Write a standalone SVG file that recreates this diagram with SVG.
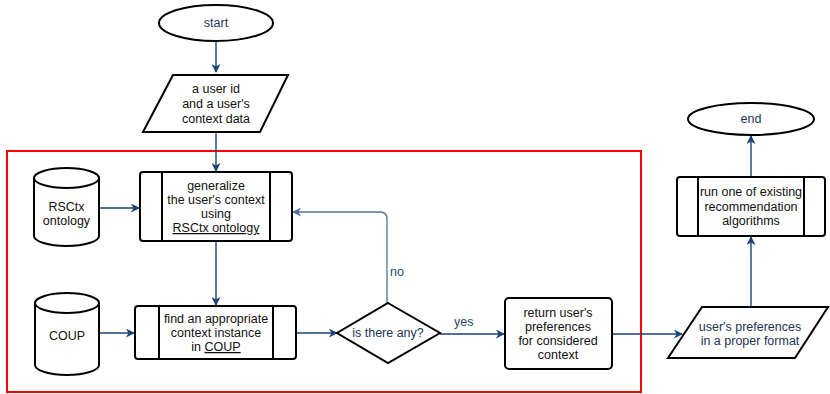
<svg xmlns="http://www.w3.org/2000/svg" width="830" height="394" viewBox="0 0 830 394">
  <style>
    .shape { fill: #ffffff; stroke: #000000; stroke-width: 2; }
    .inner { stroke: #000000; stroke-width: 2; fill: none; }
    text { font-family: "Liberation Sans", Arial, Helvetica, sans-serif; font-size: 12.5px; text-anchor: middle; fill: #111111; }
    .navy { fill: #1b3556; }
    .lbl { fill: #2c4766; text-anchor: start; }
    .edge { fill: none; stroke: #1a4274; stroke-width: 1.4; }
    .edge-soft { fill: none; stroke: #4f7299; stroke-width: 1.3; }
  </style>
  <defs>
    <marker id="arrow" viewBox="0 0 10 10" refX="9" refY="5" markerWidth="9" markerHeight="9" markerUnits="userSpaceOnUse" orient="auto">
      <path d="M0,0 L10,5 L0,10 L3,5 Z" fill="#1a4274"/>
    </marker>
    <marker id="arrow-soft" viewBox="0 0 10 10" refX="9" refY="5" markerWidth="9" markerHeight="9" markerUnits="userSpaceOnUse" orient="auto">
      <path d="M0,0 L10,5 L0,10 L3,5 Z" fill="#4f7299"/>
    </marker>
  </defs>

  <rect x="0" y="0" width="830" height="394" fill="#ffffff"/>

  <!-- processing boundary -->
  <rect id="boundary" x="7" y="151" width="634" height="241" fill="none" stroke="#ff0000" stroke-width="2"/>

  <!-- connectors -->
  <g id="connectors">
    <path class="edge" d="M216,42 L216,72" marker-end="url(#arrow)"/>
    <path class="edge" d="M216,132 L216,171" marker-end="url(#arrow)"/>
    <path class="edge" d="M99,208 L139,208" marker-end="url(#arrow)"/>
    <path class="edge" d="M216,241 L216,305" marker-end="url(#arrow)"/>
    <path class="edge" d="M99,333 L134,333" marker-end="url(#arrow)"/>
    <path class="edge" d="M296,333 L337,333" marker-end="url(#arrow)"/>
    <path class="edge-soft" d="M387,303 L387,219 Q387,212 380,212 L293,212" marker-end="url(#arrow-soft)"/>
    <path class="edge" d="M440,334 L504,334" marker-end="url(#arrow)"/>
    <path class="edge" d="M612,334 L682,334" marker-end="url(#arrow)"/>
    <path class="edge" d="M751,307 L751,237" marker-end="url(#arrow)"/>
    <path class="edge" d="M751,177 L751,136" marker-end="url(#arrow)"/>
    <text class="lbl" x="390" y="276">no</text>
    <text class="lbl" x="454" y="326">yes</text>
  </g>

  <g id="start">
    <ellipse class="shape" cx="216" cy="23" rx="57" ry="18"/>
    <text class="navy" x="216" y="27">start</text>
  </g>

  <g id="input-data">
    <polygon class="shape" points="173,75 288,75 260,132 143,132"/>
    <text x="216" y="93">a user id</text>
    <text x="216" y="108">and a user's</text>
    <text x="216" y="123">context data</text>
  </g>

  <g id="rsctx-ontology">
    <path class="shape" d="M34,178 A32.5,10 0 0 1 99,178 L99,236 A32.5,10 0 0 1 34,236 Z"/>
    <path class="inner" d="M34,178 A32.5,10 0 0 0 99,178"/>
    <text x="66.5" y="211">RSCtx</text>
    <text x="66.5" y="225">ontology</text>
  </g>

  <g id="generalize">
    <rect class="shape" x="140" y="172" width="152" height="69" rx="3"/>
    <line class="inner" x1="162" y1="172" x2="162" y2="241"/>
    <line class="inner" x1="270" y1="172" x2="270" y2="241"/>
    <text x="216" y="190">generalize</text>
    <text x="216" y="204">the user's context</text>
    <text x="216" y="218">using</text>
    <text x="216" y="232" text-decoration="underline">RSCtx ontology</text>
  </g>

  <g id="coup">
    <path class="shape" d="M35,303 A32,10 0 0 1 99,303 L99,365 A32,10 0 0 1 35,365 Z"/>
    <path class="inner" d="M35,303 A32,10 0 0 0 99,303"/>
    <text x="67" y="340">COUP</text>
  </g>

  <g id="find-instance">
    <rect class="shape" x="135" y="306" width="161" height="53" rx="3"/>
    <line class="inner" x1="159" y1="306" x2="159" y2="359"/>
    <line class="inner" x1="273" y1="306" x2="273" y2="359"/>
    <text x="216" y="323">find an appropriate</text>
    <text x="216" y="337">context instance</text>
    <text x="216" y="351">in <tspan text-decoration="underline">COUP</tspan></text>
  </g>

  <g id="decision">
    <polygon class="shape" points="388,303 440,333 388,363 337,333"/>
    <text class="navy" x="388" y="337">is there any?</text>
  </g>

  <g id="return-preferences">
    <rect class="shape" x="505" y="298" width="107" height="71" rx="4"/>
    <text x="558" y="317">return user's</text>
    <text x="558" y="331">preferences</text>
    <text x="558" y="345">for considered</text>
    <text x="558" y="359">context</text>
  </g>

  <g id="formatted-preferences">
    <polygon class="shape" points="702,307 828,307 795,358 668,358"/>
    <text class="navy" x="750" y="331">user's preferences</text>
    <text class="navy" x="750" y="345">in a proper format</text>
  </g>

  <g id="run-algorithm">
    <rect class="shape" x="677" y="177" width="148" height="59" rx="3"/>
    <line class="inner" x1="698" y1="177" x2="698" y2="236"/>
    <line class="inner" x1="804" y1="177" x2="804" y2="236"/>
    <text x="751" y="196">run one of existing</text>
    <text x="751" y="211">recommendation</text>
    <text x="751" y="225">algorithms</text>
  </g>

  <g id="end">
    <ellipse class="shape" cx="751" cy="119" rx="63" ry="16"/>
    <text class="navy" x="751" y="123">end</text>
  </g>
</svg>
